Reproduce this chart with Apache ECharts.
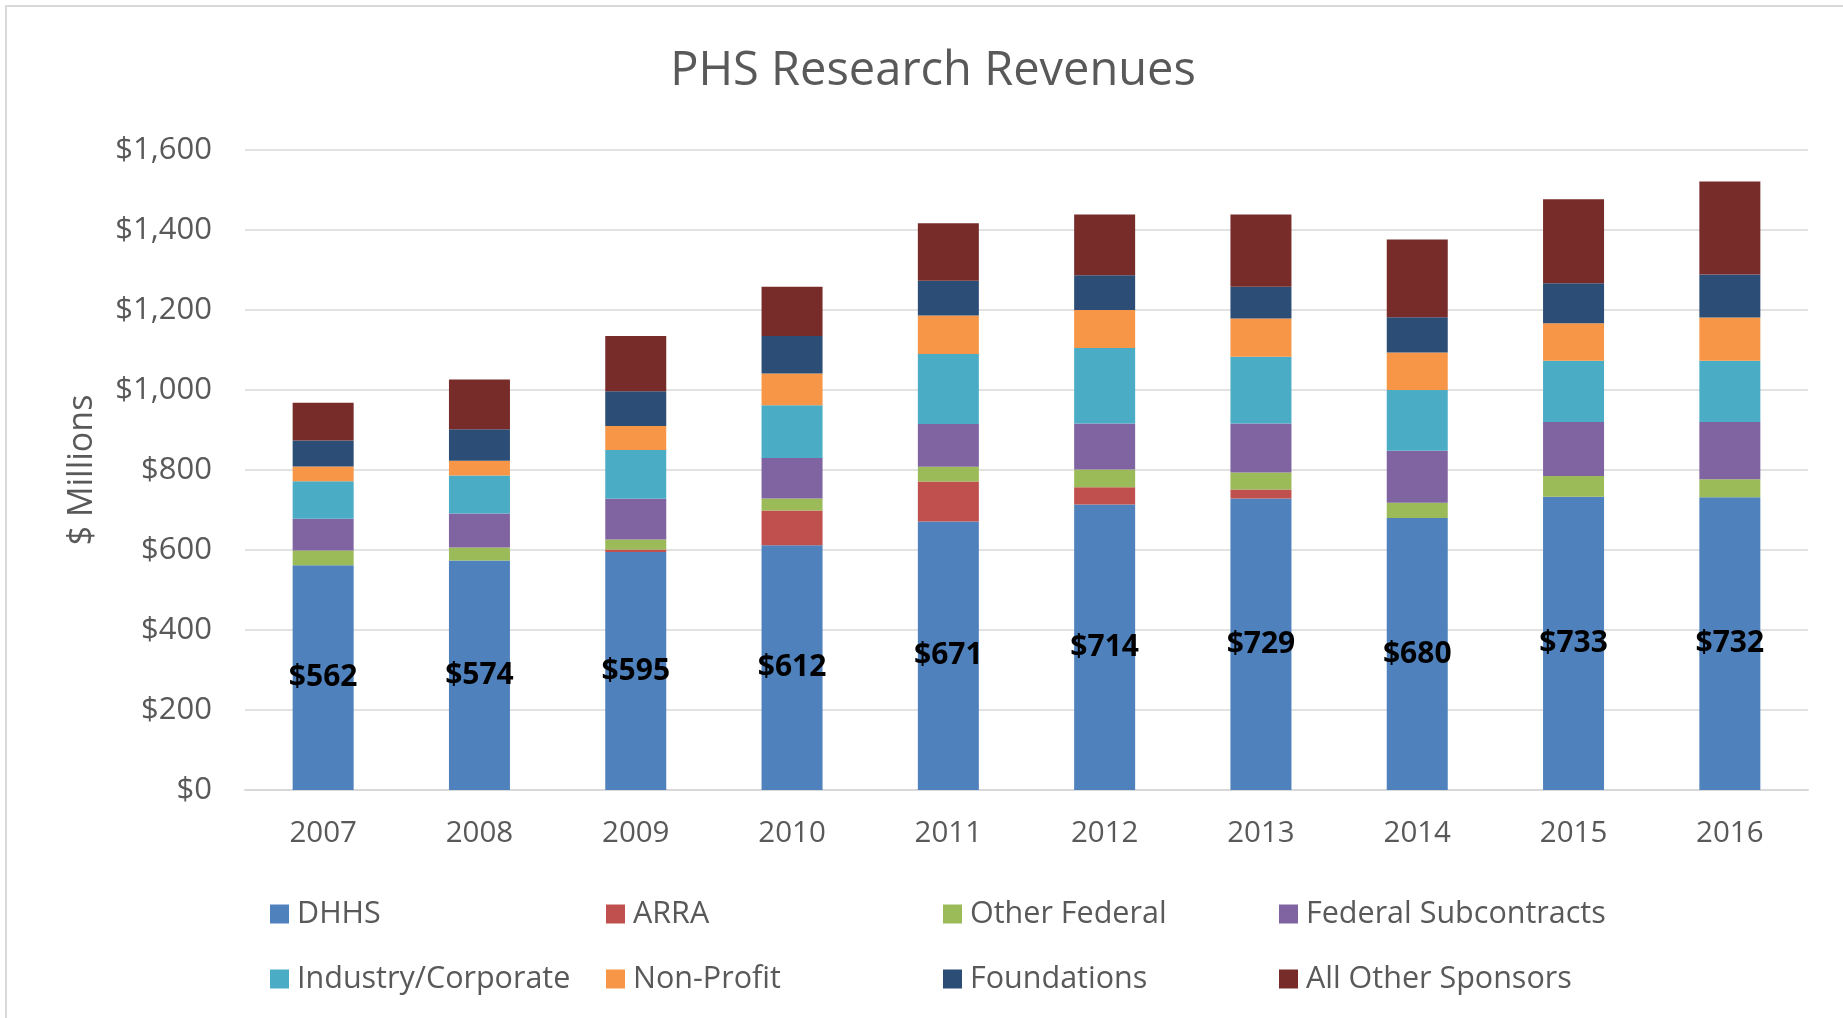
<!DOCTYPE html>
<html>
<head>
<meta charset="utf-8">
<script src="https://cdn.jsdelivr.net/npm/echarts@6/dist/echarts.min.js"></script>
<style>
html,body{margin:0;padding:0;background:#fff;}
#chart{width:1843px;height:1018px;}
</style>
</head>
<body>
<div id="chart"></div>
<script>
var years = ['2007','2008','2009','2010','2011','2012','2013','2014','2015','2016'];
var yTicks = [0,200,400,600,800,1000,1200,1400,1600];
var dhhs        = [562,574,595,612,671,714,729,680,733,732];
var arra        = [0,0,6,87,100,43,22,0,0,0];
var otherFederal= [37,32,25,30,37,44,43,38,52,45];
var fedSub      = [79,85,102,101,107,115,122,130,135,143];
var industry    = [94,95,122,132,175,189,167,152,153,153];
var nonProfit   = [37,37,60,79,96,95,96,94,94,108];
var foundations = [65,79,87,94,87,87,79,88,100,108];
var allOther    = [94,124,138,123,144,152,181,194,210,232];

var seriesNames = ['DHHS','ARRA','Other Federal','Federal Subcontracts','Industry/Corporate','Non-Profit','Foundations','All Other Sponsors'];
var seriesData = [dhhs,arra,otherFederal,fedSub,industry,nonProfit,foundations,allOther];
var colors = ['#4F81BD','#C0504D','#9BBB59','#8064A2','#4BACC6','#F79646','#2C4D75','#772C2A'];

var FONT = '"Open Sans", "Noto Sans", sans-serif';
var TXT = '#595959';

var series = seriesNames.map(function(n,i){
  var s = {
    name: n, type: 'bar', stack: 'total', barWidth: 61,
    data: seriesData[i],
    itemStyle: {color: colors[i]},
    emphasis: {disabled: true}
  };
  if (i === 0) {
    s.label = {
      show: true, position: 'inside', color: '#000', fontWeight: 'bold',
      fontSize: 30, fontFamily: FONT, textBorderWidth: 0,
      formatter: function(p){ return '$' + p.value; }
    };
  }
  return s;
});

var colLeft = [270, 606, 943, 1279];
var rowTop = [898.5, 963.5];
var legends = seriesNames.map(function(n,i){
  return {
    data: [n], left: colLeft[i % 4], top: rowTop[Math.floor(i/4)],
    orient: 'horizontal', padding: 0, icon: 'rect',
    itemWidth: 19, itemHeight: 19, selectedMode: false,
    textStyle: {color: TXT, fontSize: 30.5, fontFamily: FONT, padding: [0,0,0,3]}
  };
});

var chart = echarts.init(document.getElementById('chart'));
chart.setOption({
  animation: false,
  backgroundColor: '#fff',
  color: colors,
  title: {
    text: 'PHS Research Revenues', left: 928, textAlign: 'center', top: 43,
    textStyle: {color: TXT, fontSize: 47, fontWeight: 'normal', fontFamily: FONT}
  },
  legend: legends,
  grid: {left: 245, right: 35, top: 150, bottom: 228, containLabel: false},
  xAxis: {
    type: 'category', data: years,
    axisLine: {show: true, lineStyle: {color: '#d9d9d9', width: 2}},
    axisTick: {show: false},
    axisLabel: {color: TXT, fontSize: 29.5, fontFamily: FONT, margin: 29}
  },
  yAxis: {
    type: 'value', min: yTicks[0], max: yTicks[yTicks.length-1], interval: 200,
    name: '$ Millions', nameLocation: 'middle', nameGap: 146, nameRotate: 90,
    nameTextStyle: {color: TXT, fontSize: 34, fontFamily: FONT},
    axisLine: {show: false}, axisTick: {show: false},
    splitLine: {lineStyle: {color: '#d9d9d9', width: 1.5}},
    axisLabel: {
      color: TXT, fontSize: 31, fontFamily: FONT, margin: 33,
      formatter: function(v){ return '$' + v.toLocaleString('en-US'); }
    }
  },
  graphic: [{
    type: 'rect', silent: true, z: -1,
    shape: {x: 6, y: 6, width: 2000, height: 2000},
    style: {fill: 'none', stroke: '#d9d9d9', lineWidth: 2}
  }],
  series: series
});
</script>
</body>
</html>
